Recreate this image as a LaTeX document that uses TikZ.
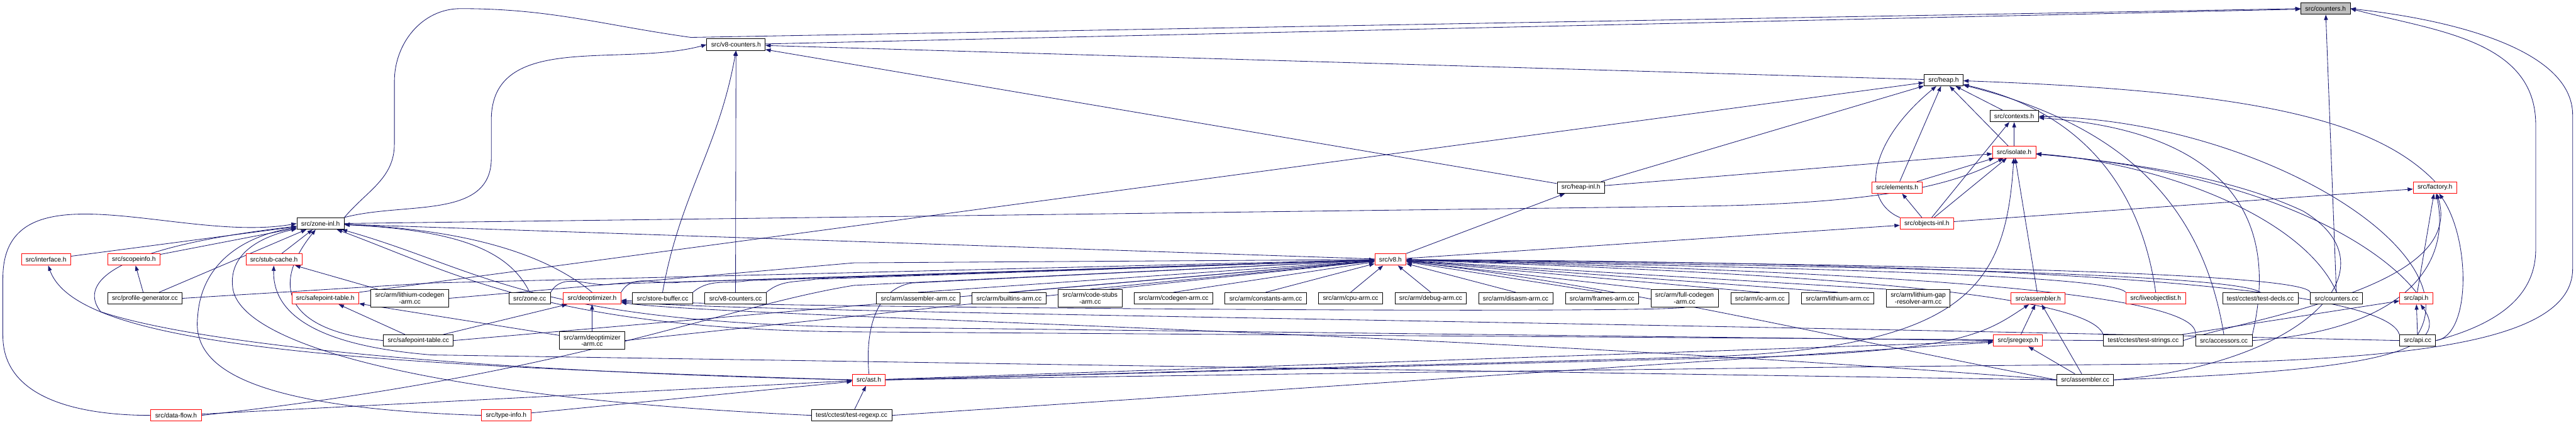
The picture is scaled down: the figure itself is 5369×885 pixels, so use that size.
\documentclass[tikz,border=0pt]{standalone}
\usepackage{fontspec}
\setmainfont{Liberation Sans}
\usetikzlibrary{arrows.meta}
\pgfdeclarelayer{bg}
\pgfsetlayers{bg,main}
\definecolor{edgeblue}{RGB}{25,25,112}
\definecolor{rootgray}{RGB}{191,191,191}
\tikzset{
  nd/.style={draw=black, line width=1.2pt, fill=white, font=\fontsize{13.5}{14}\selectfont, inner xsep=9pt, inner ysep=0pt, minimum height=24pt, align=center},
  rd/.style={nd, draw=red},
  gnd/.style={nd, fill=rootgray},
  tw/.style={minimum height=37pt},
  ed/.style={draw=edgeblue, line width=1.1pt, -{Triangle[length=11pt,width=8pt]}},
}
\begin{document}
\begin{tikzpicture}[x=1pt,y=1pt]
\useasboundingbox (0,0) rectangle (5369,-885);
% rows
\node[gnd] (counters) at (4847,-18) {src/counters.h};
\node[nd] (v8counters) at (1534,-93) {src/v8-counters.h};
\node[nd] (heap) at (4051,-167) {src/heap.h};
\node[nd] (contexts) at (4198,-242) {src/contexts.h};
\node[rd] (isolate) at (4198,-317) {src/isolate.h};
\node[nd] (heapinl) at (3295,-391) {src/heap-inl.h};
\node[rd] (elements) at (3954,-391) {src/elements.h};
\node[rd] (factory) at (5075,-391) {src/factory.h};
\node[nd] (zoneinl) at (668,-466) {src/zone-inl.h};
\node[rd] (objectsinl) at (4016,-466) {src/objects-inl.h};
\node[rd] (interface) at (96,-541) {src/interface.h};
\node[rd] (scopeinfo) at (279,-541) {src/scopeinfo.h};
\node[rd] (stubcache) at (571,-541) {src/stub-cache.h};
\node[rd] (v8h) at (2898,-541) {src/v8.h};
% row 8
\node[nd] (profgen) at (302,-622) {src/profile-generator.cc};
\node[rd] (safeptH) at (678,-622) {src/safepoint-table.h};
\node[nd,tw] (lcodegen) at (854,-622) {src/arm/lithium-codegen\\-arm.cc};
\node[nd] (zonecc) at (1104,-622) {src/zone.cc};
\node[rd] (deoptH) at (1234,-622) {src/deoptimizer.h};
\node[nd] (storebuf) at (1381,-622) {src/store-buffer.cc};
\node[nd] (v8countcc) at (1533,-622) {src/v8-counters.cc};
\node[nd] (asmarm) at (1914,-622) {src/arm/assembler-arm.cc};
\node[nd] (builtins) at (2103,-622) {src/arm/builtins-arm.cc};
\node[nd,tw] (codestubs) at (2272,-622) {src/arm/code-stubs\\-arm.cc};
\node[nd] (codegen) at (2446,-622) {src/arm/codegen-arm.cc};
\node[nd] (constants) at (2638,-622) {src/arm/constants-arm.cc};
\node[nd] (cpu) at (2815,-622) {src/arm/cpu-arm.cc};
\node[nd] (debug) at (2982,-622) {src/arm/debug-arm.cc};
\node[nd] (disasm) at (3159,-622) {src/arm/disasm-arm.cc};
\node[nd] (frames) at (3339,-622) {src/arm/frames-arm.cc};
\node[nd,tw] (fullcg) at (3511,-622) {src/arm/full-codegen\\-arm.cc};
\node[nd] (ic) at (3668,-622) {src/arm/ic-arm.cc};
\node[nd] (lithium) at (3830,-622) {src/arm/lithium-arm.cc};
\node[nd,tw] (gapres) at (3998,-622) {src/arm/lithium-gap\\-resolver-arm.cc};
\node[rd] (asmH) at (4248,-622) {src/assembler.h};
\node[rd] (lol) at (4493,-622) {src/liveobjectlist.h};
\node[nd] (testdecls) at (4711,-622) {test/cctest/test-decls.cc};
\node[nd] (counterscc) at (4870,-622) {src/counters.cc};
\node[rd] (apiH) at (5036,-622) {src/api.h};
% row 9
\node[nd] (safeptcc) at (872,-710) {src/safepoint-table.cc};
\node[nd,tw] (deoptarm) at (1234,-710) {src/arm/deoptimizer\\-arm.cc};
\node[rd] (jsregexp) at (4206,-710) {src/jsregexp.h};
\node[nd] (teststrings) at (4467,-710) {test/cctest/test-strings.cc};
\node[nd] (accessors) at (4635,-710) {src/accessors.cc};
\node[nd] (apicc) at (5039,-710) {src/api.cc};
% row 10/11
\node[rd] (ast) at (1811,-792) {src/ast.h};
\node[nd] (asmcc) at (4346,-792) {src/assembler.cc};
\node[rd] (dataflow) at (367,-866) {src/data-flow.h};
\node[rd] (typeinfo) at (1055,-866) {src/type-info.h};
\node[nd] (testregexp) at (1775,-866) {test/cctest/test-regexp.cc};

\begin{pgfonlayer}{bg}
\fill[white] (0,0) rectangle (5369,-885);
% to counters.h
\draw[ed] (v8counters) -- (counters);
\draw[ed] (counterscc) -- (counters);
\draw[ed] (zoneinl.north east) to[out=50,in=270] (822,-300) -- (822,-170) to[out=90,in=180] (960,-18) to[out=0,in=172] (1440,-78) -- (counters.west);
\draw[ed] (apicc.east) to[out=15,in=270] (5285,-520) -- (5285,-260) to[out=90,in=-15] (counters.east);
\draw[ed] (ast.east) .. controls (3000,-775) and (3800,-765) .. (4400,-760) .. controls (5000,-755) and (5362,-720) .. (5362,-560) -- (5362,-240) .. controls (5362,-100) and (5100,-40) .. (counters.east);
% to v8-counters.h
\draw[ed] (heap) -- (v8counters);
\draw[ed] (heapinl) -- (v8counters);
\draw[ed] (zoneinl.north east) to[out=15,in=270] (1024,-330) -- (1024,-250) to[out=90,in=195] (v8counters.west);
\draw[ed] (storebuf.north) to[out=80,in=260] (v8counters.south);
\draw[ed] (v8countcc) -- (v8counters);
% to heap.h
\draw[ed] (contexts) -- (heap);
\draw[ed] (isolate) -- (heap);
\draw[ed] (heapinl) -- (heap);
\draw[ed] (elements) -- (heap);
\draw[ed] (safeptH.north east) -- (heap);
\draw[ed] (objectsinl.north west) .. controls (3880,-420) and (3890,-300) .. (heap);
\draw[ed] (factory.north) .. controls (4950,-250) and (4700,-190) .. (heap);
\draw[ed] (lol.north) .. controls (4460,-380) and (4330,-230) .. (heap);
\draw[ed] (accessors.north) .. controls (4590,-420) and (4420,-260) .. (heap);
% to contexts.h
\draw[ed] (isolate) -- (contexts);
\draw[ed] (objectsinl) -- (contexts);
\draw[ed] (accessors.north east) .. controls (4760,-420) and (4600,-270) .. (contexts);
\draw[ed] (apicc.north) .. controls (5150,-520) and (4700,-250) .. (contexts);
% to isolate.h
\draw[ed] (heapinl) -- (isolate);
\draw[ed] (elements) -- (isolate);
\draw[ed] (zoneinl.east) -- (3540,-430) .. controls (3850,-425) and (4050,-400) .. (isolate);
\draw[ed] (objectsinl) -- (isolate);
\draw[ed] (asmH) -- (isolate);
\draw[ed] (counterscc.north) .. controls (4800,-450) and (4500,-340) .. (isolate);
\draw[ed] (apiH.north) .. controls (4950,-500) and (4700,-360) .. (isolate);
\draw[ed] (asmcc.east) .. controls (4800,-760) and (5000,-560) .. (4800,-440) .. controls (4650,-370) and (4450,-340) .. (isolate);
\draw[ed] (ast.east) -- (3520,-745) .. controls (4100,-730) and (4180,-600) .. (isolate);
% to factory.h
\draw[ed] (objectsinl) -- (factory);
\draw[ed] (apiH) -- (factory);
\draw[ed] (accessors.east) .. controls (5000,-690) and (5110,-560) .. (factory);
\draw[ed] (teststrings.east) .. controls (4700,-660) and (5140,-600) .. (factory);
\draw[ed] (apicc.east) .. controls (5150,-700) and (5150,-500) .. (factory);
% to elements.h
\draw[ed] (objectsinl) -- (elements);
% from v8.h
\draw[ed] (v8h) -- (heapinl);
\draw[ed] (v8h) -- (objectsinl);
\draw[ed] (v8h) -- (zoneinl);
% to zone-inl.h
\draw[ed] (interface) -- (zoneinl);
\draw[ed] (scopeinfo) -- (zoneinl);
\draw[ed] (stubcache) -- (zoneinl);
\draw[ed] (profgen) -- (zoneinl);
\draw[ed] (profgen) -- (scopeinfo);
\draw[ed] (dataflow.west) to[out=180,in=270] (6,-700) -- (6,-580) to[out=90,in=190] (zoneinl.west);
\draw[ed] (typeinfo.west) .. controls (500,-850) and (400,-760) .. (412,-660) .. controls (420,-540) and (520,-490) .. (zoneinl);
\draw[ed] (testregexp.west) .. controls (900,-830) and (500,-720) .. (485,-600) .. controls (475,-520) and (560,-490) .. (zoneinl);
\draw[ed] (ast.west) .. controls (1000,-775) and (420,-720) .. (210,-650) .. controls (170,-600) and (200,-520) .. (zoneinl);
\draw[ed] (ast.west) .. controls (700,-760) and (160,-720) .. (interface);
\draw[ed] (safeptcc.west) .. controls (600,-690) and (560,-600) .. (zoneinl);
\draw[ed] (zonecc.north) .. controls (1060,-520) and (950,-480) .. (zoneinl);
\draw[ed] (deoptH.north) .. controls (1150,-540) and (1000,-480) .. (zoneinl);
\draw[ed] (jsregexp.west) -- (1780,-682) .. controls (1100,-670) and (1000,-560) .. (zoneinl);
\draw[ed] (teststrings.west) -- (1800,-692) .. controls (1150,-690) and (950,-570) .. (zoneinl);
% stub-cache, safepoint, deoptimizer
\draw[ed] (lcodegen) -- (stubcache);
\draw[ed] (asmcc.west) -- (900,-740) .. controls (650,-720) and (568,-650) .. (stubcache);
\draw[ed] (safeptcc) -- (safeptH);
\draw[ed] (deoptarm) -- (safeptH);
\draw[ed] (safeptcc) -- (deoptH);
\draw[ed] (deoptarm) -- (deoptH);
\draw[ed] (apicc.west) .. controls (3000,-665) and (1500,-650) .. (deoptH);
\draw[ed] (asmcc.west) .. controls (3000,-690) and (1500,-660) .. (deoptH);
\draw[ed] (fullcg.south) .. controls (3400,-655) and (1500,-640) .. (deoptH);
% to ast.h
\draw[ed] (dataflow) -- (ast);
\draw[ed] (typeinfo) -- (ast);
\draw[ed] (testregexp) -- (ast);
% from ast.h
\draw[ed] (ast) -- (jsregexp);
\draw[ed] (ast.east) -- (3520,-748) .. controls (4080,-738) and (4130,-700) .. (asmH);
\draw[ed] (ast.north) to[out=95,in=190] (1900,-590) -- (v8h);
% jsregexp, assembler, api
\draw[ed] (testregexp.east) -- (jsregexp);
\draw[ed] (asmcc) -- (jsregexp);
\draw[ed] (jsregexp) -- (asmH);
\draw[ed] (asmcc) -- (asmH);
\draw[ed] (teststrings) -- (apiH);
\draw[ed] (apicc) -- (apiH);
\draw[ed] (asmcc.east) .. controls (4900,-775) and (5120,-740) .. (apiH);
% to v8.h
\draw[ed] (profgen.east) -- (900,-590) -- (v8h);
\draw[ed] (lcodegen.east) -- (1780,-548) -- (v8h);
\draw[ed] (safeptcc.east) -- (v8h);
\draw[ed] (zonecc.north east) to[out=60,in=190] (1280,-592) -- (v8h);
\draw[ed] (deoptH.north east) to[out=60,in=190] (1420,-588) -- (v8h);
\draw[ed] (storebuf.north east) to[out=40,in=190] (1560,-585) -- (v8h);
\draw[ed] (v8countcc.north east) to[out=40,in=190] (1700,-582) -- (v8h);
\draw[ed] (deoptarm.east) -- (v8h);
\draw[ed] (dataflow.east) .. controls (1200,-780) and (1500,-640) .. (1780,-595) -- (v8h);
\draw[ed] (asmarm.north) -- (v8h);
\draw[ed] (builtins.north) -- (v8h);
\draw[ed] (codestubs.north) -- (v8h);
\draw[ed] (codegen.north) -- (v8h);
\draw[ed] (constants.north) -- (v8h);
\draw[ed] (cpu.north) -- (v8h);
\draw[ed] (debug.north) -- (v8h);
\draw[ed] (disasm.north) -- (v8h);
\draw[ed] (frames.north) -- (v8h);
\draw[ed] (fullcg.north west) -- (v8h);
\draw[ed] (ic.north) -- (v8h);
\draw[ed] (lithium.north) -- (v8h);
\draw[ed] (gapres.north west) -- (v8h);
\draw[ed] (lol.north west) .. controls (4400,-570) and (3600,-556) .. (v8h);
\draw[ed] (testdecls.north) .. controls (4650,-565) and (3600,-552) .. (v8h);
\draw[ed] (counterscc.north west) .. controls (4800,-560) and (3600,-548) .. (v8h);
\draw[ed] (apicc.north west) .. controls (4960,-560) and (3600,-545) .. (v8h);
\draw[ed] (accessors.north west) .. controls (4594,-590) and (3600,-560) .. (v8h);
\draw[ed] (teststrings.north west) .. controls (4350,-600) and (3600,-565) .. (v8h);
\draw[ed] (asmcc.west) .. controls (3800,-700) and (3400,-600) .. (v8h);
\end{pgfonlayer}
\end{tikzpicture}
\end{document}
